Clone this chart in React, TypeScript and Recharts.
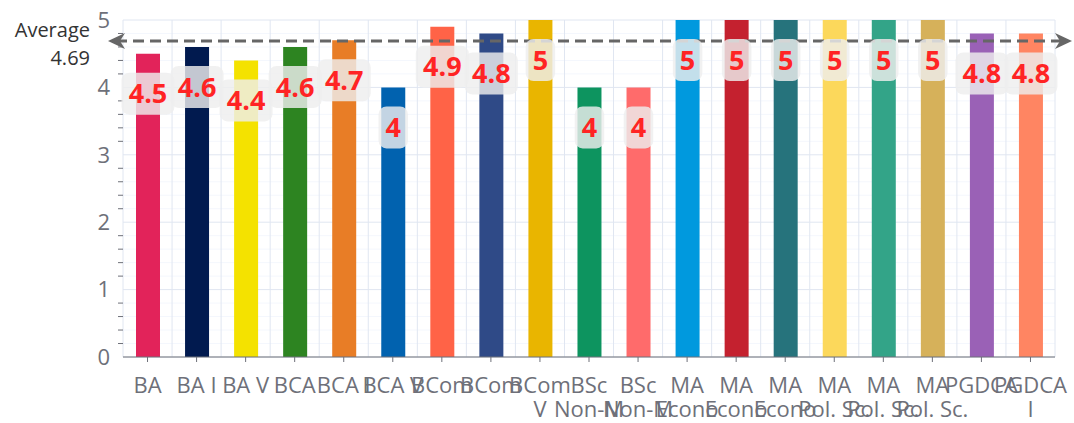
import React from "react";
import { Bar, BarChart, CartesianGrid, Cell, LabelList, ReferenceLine, XAxis, YAxis } from "recharts";

const programs = [
  "BA", "BA I", "BA V", "BCA", "BCA I", "BCA V", "BCom", "BCom", "BCom V", "BSc Non-Medical",
  "BSc Non-Medical", "MA Economics", "MA Economics", "MA Economics", "MA Pol. Sc.", "MA Pol. Sc.",
  "MA Pol. Sc.", "PGDCA", "PGDCA I"
];
const tickLine1 = [
  "BA", "BA I", "BA V", "BCA", "BCA I", "BCA V", "BCom", "BCom", "BCom", "BSc",
  "BSc", "MA", "MA", "MA", "MA", "MA", "MA", "PGDCA", "PGDCA"
];
const tickLine2 = [
  "", "", "", "", "", "", "", "", "V", "Non-M",
  "Non-M", "Econo", "Econo", "Econo", "Pol. Sc.", "Pol. Sc.", "Pol. Sc.", "", "I"
];
const scores = [4.5, 4.6, 4.4, 4.6, 4.7, 4, 4.9, 4.8, 5, 4, 4, 5, 5, 5, 5, 5, 5, 4.8, 4.8];
const barColors = [
  "#E2235A", "#011A4F", "#F4E200", "#2D8421", "#E87D26", "#0162AF", "#FF6347", "#2F4A87", "#E9B500",
  "#0D945F", "#FF6B6B", "#0099DE", "#C4212F", "#26737C", "#FCD85B", "#33A488", "#D6B15A", "#9A61B6",
  "#FF8562"
];
const yTicks = [0, 1, 2, 3, 4, 5];
const minorTicks = [
  0.2, 0.4, 0.6, 0.8, 1.2, 1.4, 1.6, 1.8, 2.2, 2.4, 2.6, 2.8, 3.2, 3.4, 3.6, 3.8, 4.2, 4.4, 4.6, 4.8
];
const averageScore = 4.69;

const data = programs.map((program, i) => ({ program, score: scores[i] }));

const axisGrey = "#6e7079";

function ProgramTick({ x, y, payload }: any) {
  const i = payload.index;
  return (
    <text x={x} y={y} textAnchor="middle" fill={axisGrey} fontSize={22}>
      <tspan x={x} dy={29}>{tickLine1[i]}</tspan>
      {tickLine2[i] ? <tspan x={x} dy={24}>{tickLine2[i]}</tspan> : null}
    </text>
  );
}

function ScoreBadge({ x, y, width, value }: any) {
  const cx = x + width / 2;
  const cy = y + 40;
  const text = String(value);
  const textWidth = text.split("").reduce((w, c) => w + (c === "." ? 8 : 15.5), 0);
  const boxWidth = textWidth + 14;
  return (
    <g>
      <rect x={cx - boxWidth / 2} y={cy - 21} width={boxWidth} height={42} rx={8} fill="rgba(238,238,238,0.82)" />
      <text x={cx} y={cy} dy="0.36em" textAnchor="middle" fill="#ff2424" fontSize={27} fontWeight={700}>
        {text}
      </text>
    </g>
  );
}

function AverageLine({ x1, y1, x2 }: any) {
  const left = x1 - 15;
  const right = x2 + 17;
  return (
    <g>
      <line x1={left + 8} y1={y1} x2={right - 8} y2={y1} stroke="#666" strokeWidth={3} strokeDasharray="11 6" />
      <path d={`M${left} ${y1} L${left + 17} ${y1 - 8} L${left + 12} ${y1} L${left + 17} ${y1 + 8} Z`} fill="#666" />
      <path d={`M${right} ${y1} L${right - 17} ${y1 - 8} L${right - 12} ${y1} L${right - 17} ${y1 + 8} Z`} fill="#666" />
      <text x={left - 18} y={y1 - 4} textAnchor="end" fontSize={20} fill="#333">Average</text>
      <text x={left - 18} y={y1 + 24} textAnchor="end" fontSize={20} fill="#333">{averageScore.toFixed(2)}</text>
    </g>
  );
}

function MinorTick({ x1, y1 }: any) {
  return <line x1={x1 - 5} y1={y1} x2={x1} y2={y1} stroke={axisGrey} strokeWidth={1} />;
}

export default function App() {
  return (
    <div
      style={{
        position: "absolute",
        left: 0,
        top: 0,
        width: 1074,
        height: 423,
        background: "#fff",
        fontFamily: "'Open Sans', sans-serif"
      }}
    >
      <BarChart width={1074} height={423} data={data} margin={{ top: 20, right: 19, left: 0, bottom: 0 }}>
        <CartesianGrid
          stroke="#F4F7FD"
          vertical={false}
          horizontalCoordinatesGenerator={({ offset }: any) =>
            minorTicks.map((v) => offset.top + offset.height * (1 - v / 5))
          }
        />
        <CartesianGrid
          stroke="#E0E6F1"
          verticalCoordinatesGenerator={({ offset }: any) =>
            [...programs, ""].map((_, i) => offset.left + (offset.width * i) / programs.length)
          }
        />
        <XAxis
          dataKey="program"
          interval={0}
          height={66}
          tick={<ProgramTick />}
          tickSize={5}
          tickMargin={2}
          axisLine={{ stroke: axisGrey }}
          tickLine={{ stroke: axisGrey }}
        />
        <YAxis
          type="number"
          domain={[0, 5]}
          ticks={yTicks}
          width={123}
          axisLine={false}
          tickLine={false}
          tickSize={6}
          tickMargin={7}
          tick={{ fill: axisGrey, fontSize: 22 }}
        />
        {minorTicks.map((v) => (
          <ReferenceLine key={v} y={v} ifOverflow="visible" shape={MinorTick} />
        ))}
        <Bar dataKey="score" barSize={24} isAnimationActive={false}>
          {data.map((d, i) => (
            <Cell key={i} fill={barColors[i]} />
          ))}
          <LabelList dataKey="score" content={ScoreBadge} />
        </Bar>
        <ReferenceLine y={averageScore} ifOverflow="visible" shape={AverageLine} />
      </BarChart>
    </div>
  );
}
